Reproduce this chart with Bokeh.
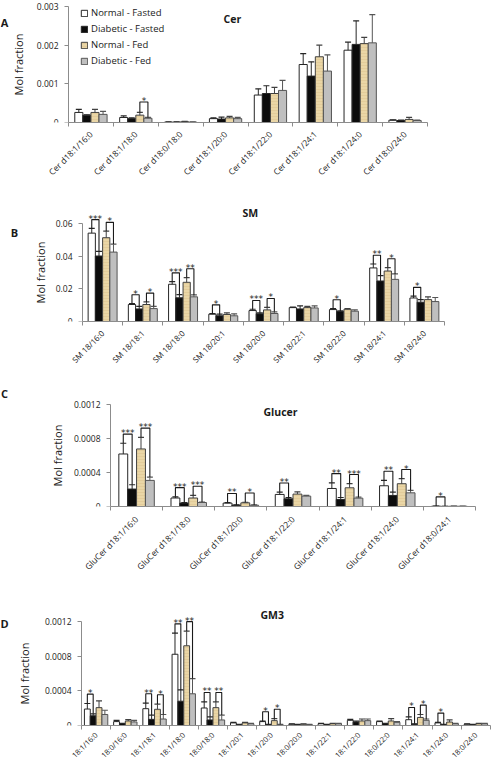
import numpy as np
from bokeh.plotting import figure
from bokeh.layouts import column
from bokeh.models import ColumnDataSource, FixedTicker, Range1d, Label, Legend, LegendItem
from bokeh.embed import file_html
from bokeh.resources import INLINE
from bokeh.core.properties import value

GROUPS = ["Normal - Fasted", "Diabetic - Fasted", "Normal - Fed", "Diabetic - Fed"]

# ---------------- Panel A : Cer ----------------
cer_cats = ["Cer d18:1/16:0", "Cer d18:1/18:0", "Cer d18:0/18:0", "Cer d18:1/20:0",
            "Cer d18:1/22:0", "Cer d18:1/24:1", "Cer d18:1/24:0", "Cer d18:0/24:0"]
cer_nf = [0.00026, 0.00013, 0.00001, 0.00010, 0.00071, 0.00150, 0.00187, 0.00006]
cer_nf_sem = [0.00008, 0.00004, 0.000005, 0.00002, 0.00016, 0.00028, 0.00021, 0.00001]
cer_df = [0.00019, 0.00010, 0.00001, 0.00009, 0.00075, 0.00120, 0.00202, 0.00005]
cer_df_sem = [0.00001, 0.00002, 0.000005, 0.00005, 0.00020, 0.00037, 0.00061, 0.00001]
cer_nfed = [0.00026, 0.00019, 0.00002, 0.00012, 0.00075, 0.00170, 0.00204, 0.00008]
cer_nfed_sem = [0.00008, 0.00007, 0.00001, 0.00004, 0.00016, 0.00030, 0.00016, 0.00005]
cer_dfed = [0.00021, 0.00011, 0.00001, 0.00010, 0.00083, 0.00133, 0.00206, 0.00005]
cer_dfed_sem = [0.00008, 0.00002, 0.000005, 0.00003, 0.00026, 0.00042, 0.00073, 0.00001]
cer_sig = [(1, 1, "*")]
cer_yticks = [0, 0.001, 0.002, 0.003]
cer_ylabels = ["0", "0.001", "0.002", "0.003"]

# ---------------- Panel B : SM ----------------
sm_cats = ["SM 18/16:0", "SM 18/18:1", "SM 18/18:0", "SM 18/20:1", "SM 18/20:0",
           "SM 18/22:1", "SM 18/22:0", "SM 18/24:1", "SM 18/24:0"]
sm_nf = [0.0541, 0.0104, 0.0228, 0.0045, 0.0067, 0.0085, 0.0073, 0.0328, 0.0144]
sm_nf_sem = [0.0029, 0.0006, 0.0016, 0.0003, 0.0008, 0.0003, 0.0006, 0.0024, 0.0011]
sm_df = [0.0401, 0.0077, 0.0145, 0.0035, 0.0047, 0.0077, 0.0061, 0.0248, 0.0118]
sm_df_sem = [0.0028, 0.0015, 0.0020, 0.0010, 0.0006, 0.0019, 0.0004, 0.0033, 0.0016]
sm_nfed = [0.0513, 0.0104, 0.0240, 0.0043, 0.0071, 0.0085, 0.0075, 0.0309, 0.0134]
sm_nfed_sem = [0.0040, 0.0016, 0.0029, 0.0010, 0.0016, 0.0007, 0.0004, 0.0021, 0.0017]
sm_dfed = [0.0425, 0.0079, 0.0151, 0.0035, 0.0049, 0.0083, 0.0063, 0.0258, 0.0122]
sm_dfed_sem = [0.0049, 0.0014, 0.0012, 0.0012, 0.0010, 0.0013, 0.0008, 0.0033, 0.0025]
sm_sig = [(0, 0, "***"), (0, 1, "*"), (1, 0, "*"), (1, 1, "*"), (2, 0, "***"), (2, 1, "**"),
          (3, 0, "*"), (4, 0, "***"), (4, 1, "*"), (6, 0, "*"), (7, 0, "**"), (7, 1, "*"),
          (8, 0, "*")]
sm_yticks = [0, 0.02, 0.04, 0.06]
sm_ylabels = ["0", "0.02", "0.04", "0.06"]

# ---------------- Panel C : Glucer ----------------
glc_cats = ["GluCer d18:1/16:0", "GluCer d18:1/18:0", "GluCer d18:1/20:0", "GluCer d18:1/22:0",
            "GluCer d18:1/24:1", "GluCer d18:1/24:0", "GluCer d18:0/24:1"]
glc_nf = [0.000618, 0.000100, 0.000040, 0.000142, 0.000212, 0.000244, 0.000004]
glc_nf_sem = [0.000126, 0.000014, 0.000005, 0.000027, 0.000067, 0.000063, 0.000001]
glc_df = [0.000205, 0.000040, 0.000016, 0.000090, 0.000083, 0.000130, 0.000002]
glc_df_sem = [0.000051, 0.000005, 0.000003, 0.000016, 0.000023, 0.000039, 0.000001]
glc_nfed = [0.000677, 0.000100, 0.000043, 0.000146, 0.000220, 0.000268, 0.000003]
glc_nfed_sem = [0.000137, 0.000030, 0.000007, 0.000027, 0.000048, 0.000059, 0.000001]
glc_dfed = [0.000307, 0.000047, 0.000015, 0.000122, 0.000098, 0.000161, 0.000003]
glc_dfed_sem = [0.000039, 0.000005, 0.000003, 0.000008, 0.000012, 0.000028, 0.000001]
glc_sig = [(0, 0, "***"), (0, 1, "***"), (1, 0, "***"), (1, 1, "***"), (2, 0, "**"), (2, 1, "*"),
           (3, 0, "**"), (4, 0, "**"), (4, 1, "***"), (5, 0, "**"), (5, 1, "*"), (6, 0, "*")]
glc_yticks = [0, 0.0004, 0.0008, 0.0012]
glc_ylabels = ["0", "0.0004", "0.0008", "0.0012"]

# ---------------- Panel D : GM3 ----------------
gm3_cats = ["18:1/16:0", "18:0/16:0", "18:1/18:1", "18:1/18:0", "18:0/18:0", "18:1/20:1",
            "18:1/20:0", "18:0/20:0", "18:1/22:1", "18:1/22:0", "18:0/22:0", "18:1/24:1",
            "18:1/24:0", "18:0/24:0"]
gm3_nf = [0.000190, 0.000045, 0.000194, 0.000822, 0.000202, 0.000030, 0.000045, 0.000015,
          0.000020, 0.000060, 0.000045, 0.000067, 0.000030, 0.000015]
gm3_nf_sem = [0.000064, 0.000015, 0.000064, 0.000243, 0.000071, 0.000005, 0.000005, 0.000003,
              0.000004, 0.000010, 0.000005, 0.000033, 0.000005, 0.000003]
gm3_df = [0.000112, 0.000022, 0.000071, 0.000280, 0.000064, 0.000010, 0.000010, 0.000010,
          0.000010, 0.000040, 0.000020, 0.000015, 0.000010, 0.000010]
gm3_df_sem = [0.000023, 0.000004, 0.000049, 0.000131, 0.000036, 0.000003, 0.000003, 0.000002,
              0.000002, 0.000010, 0.000004, 0.000004, 0.000002, 0.000002]
gm3_nfed = [0.000206, 0.000052, 0.000187, 0.000920, 0.000206, 0.000030, 0.000056, 0.000015,
            0.000020, 0.000052, 0.000052, 0.000093, 0.000040, 0.000020]
gm3_nfed_sem = [0.000078, 0.000015, 0.000060, 0.000170, 0.000067, 0.000005, 0.000023, 0.000003,
                0.000004, 0.000023, 0.000027, 0.000034, 0.000024, 0.000004]
gm3_dfed = [0.000127, 0.000041, 0.000075, 0.000366, 0.000064, 0.000020, 0.000010, 0.000010,
            0.000020, 0.000056, 0.000037, 0.000060, 0.000020, 0.000020]
gm3_dfed_sem = [0.000049, 0.000019, 0.000052, 0.000176, 0.000056, 0.000004, 0.000003, 0.000002,
                0.000004, 0.000019, 0.000008, 0.000015, 0.000004, 0.000004]
gm3_sig = [(0, 0, "*"), (2, 0, "**"), (2, 1, "*"), (3, 0, "**"), (3, 1, "**"), (4, 0, "**"),
           (4, 1, "**"), (6, 0, "*"), (6, 1, "*"), (11, 0, "*"), (11, 1, "*"), (12, 0, "*")]
gm3_yticks = [0, 0.0004, 0.0008, 0.0012]
gm3_ylabels = ["0", "0.0004", "0.0008", "0.0012"]

# ---------------- styling ----------------
FONT = "Open Sans"
FILL = ["#FFFFFF", "#0C0C0C", "#EAD6A6", "#BFBFBF"]
LINE = ["#262626", "#262626", "#404040", "#555555"]
AXIS = "#8C8C8C"
TXT = "#1A1A1A"
W = 496          # figure width (page x 8 .. 504)
X0 = 8           # left edge of figures in picture pixels


def panel(cats, means, sems, sigs, yticks, ylabels, title, letter, *, fig_top, height,
          ax_top, ax_bottom, fr_left, fr_right, bw, title_pos, letter_pos,
          legend=False, ylab_standoff=8, xlab_size="8px", xlab_standoff=5):
    n = len(cats)
    ymax = yticks[-1]
    ppx = (fr_right - fr_left) / n                 # pixels per category
    ppy = (ax_bottom - ax_top) / ymax              # pixels per y unit
    x_start = -0.5 - (fr_left - X0) / ppx
    x_end = n - 0.5 + (X0 + W - fr_right) / ppx
    y_end = (ax_bottom - fig_top) / ppy

    def to_data(px, py):
        return (x_start + (px - X0) / ppx, (ax_bottom - py) / ppy)

    p = figure(width=W, height=height,
               x_range=Range1d(x_start, x_end), y_range=Range1d(0, y_end),
               min_border_left=0, min_border_right=0, min_border_top=0,
               min_border_bottom=int(round(fig_top + height - ax_bottom)),
               output_backend="svg", toolbar_location=None,
               outline_line_color=None, background_fill_color="white",
               border_fill_color="white")
    p.grid.visible = False

    xs = np.arange(n)
    offs = (np.arange(4) - 1.5) * bw
    rends = []
    for g in range(4):
        m = np.array(means[g], dtype=float)
        s = np.array(sems[g], dtype=float)
        src = ColumnDataSource(dict(x=xs + offs[g], top=m, err=m + s))
        kw = {}
        if g == 2:
            kw = dict(hatch_pattern="horizontal_line", hatch_color="#D8BF88",
                      hatch_scale=3, hatch_weight=0.6, hatch_alpha=0.7)
        r = p.vbar(x="x", top="top", bottom=0, width=bw, source=src,
                   fill_color=FILL[g], line_color=LINE[g], line_width=1, **kw)
        rends.append(r)
        p.segment(x0="x", y0="top", x1="x", y1="err", source=src,
                  line_color=LINE[g], line_width=1)
        p.scatter(x="x", y="err", marker="dash", size=6, source=src,
                  line_color=LINE[g], line_width=1.2)

    # significance brackets
    bx, by, tx, ty, tt = [], [], [], [], []
    for ci, pair, stars in sigs:
        a, b = 2 * pair, 2 * pair + 1
        ya = means[a][ci] + sems[a][ci]
        yb = means[b][ci] + sems[b][ci]
        lvl = max(ya, yb) + 0.09 * ymax
        xa = ci + offs[a]
        xb = ci + offs[b]
        bx.append([xa, xa, xb, xb])
        by.append([ya, lvl, lvl, yb])
        tx.append((xa + xb) / 2)
        ty.append(lvl)
        tt.append(stars)
    if bx:
        p.multi_line(bx, by, line_color="#1A1A1A", line_width=1.1)
        p.text(tx, ty, text=tt, text_align="center", text_baseline="alphabetic",
               text_font=value("DejaVu Sans"), text_font_size="9px",
               text_color="#1A1A1A", y_offset=-1)

    # x axis (category boundaries as tick marks)
    xa_ = p.xaxis[0]
    xa_.bounds = (-0.5, n - 0.5)
    xa_.ticker = FixedTicker(ticks=list(range(n)),
                             minor_ticks=[i - 0.5 for i in range(n + 1)])
    xa_.major_label_overrides = {i: c for i, c in enumerate(cats)}
    xa_.major_label_orientation = np.pi / 4
    xa_.major_tick_line_color = None
    xa_.major_tick_out = 0
    xa_.major_tick_in = 0
    xa_.minor_tick_out = 4
    xa_.minor_tick_in = 0
    xa_.minor_tick_line_color = AXIS
    xa_.axis_line_color = AXIS
    xa_.major_label_text_font = FONT
    xa_.major_label_text_font_size = xlab_size
    xa_.major_label_text_color = TXT
    xa_.major_label_standoff = xlab_standoff

    # y axis, fixed at the left edge of the category range
    ya_ = p.yaxis[0]
    ya_.fixed_location = -0.5
    ya_.ticker = FixedTicker(ticks=yticks)
    ya_.major_label_overrides = {t: l for t, l in zip(yticks, ylabels)}
    ya_.bounds = (0, ymax)
    ya_.axis_line_color = AXIS
    ya_.major_tick_line_color = AXIS
    ya_.major_tick_out = 4
    ya_.major_tick_in = 0
    ya_.minor_tick_line_color = None
    ya_.major_label_text_font = FONT
    ya_.major_label_text_font_size = "8.5px"
    ya_.major_label_text_color = TXT
    ya_.major_label_standoff = 6
    ya_.axis_label = "Mol fraction"
    ya_.axis_label_text_font = FONT
    ya_.axis_label_text_font_size = "11px"
    ya_.axis_label_text_font_style = "normal"
    ya_.axis_label_text_color = TXT
    ya_.axis_label_standoff = ylab_standoff

    # titles and panel letters
    tx_, ty_ = to_data(*title_pos)
    p.add_layout(Label(x=tx_, y=ty_, text=title, text_font=FONT, text_font_size="10.5px",
                       text_font_style="bold", text_color=TXT, text_baseline="middle",
                       text_align="left"))
    lx_, ly_ = to_data(*letter_pos)
    p.add_layout(Label(x=lx_, y=ly_, text=letter, text_font=FONT, text_font_size="11px",
                       text_font_style="bold", text_color=TXT, text_baseline="middle",
                       text_align="center"))

    if legend:
        items = [LegendItem(label=GROUPS[g], renderers=[rends[g]]) for g in range(4)]
        lg = Legend(items=items, location=(80, 55), padding=0, margin=0, spacing=3,
                    label_height=10, glyph_height=8, glyph_width=8, label_standoff=3,
                    label_text_font=FONT, label_text_font_size="9.5px",
                    label_text_color=TXT, border_line_color=None,
                    background_fill_alpha=0)
        p.add_layout(lg, "center")
    return p


pA = panel(cer_cats, [cer_nf, cer_df, cer_nfed, cer_dfed],
           [cer_nf_sem, cer_df_sem, cer_nfed_sem, cer_dfed_sem], cer_sig,
           cer_yticks, cer_ylabels, "Cer", "A",
           fig_top=0, height=188, ax_top=6, ax_bottom=122, fr_left=76, fr_right=435,
           bw=0.18, title_pos=(231, 18), letter_pos=(12, 22), legend=True,
           ylab_standoff=8, xlab_size="8.5px", xlab_standoff=6)
pB = panel(sm_cats, [sm_nf, sm_df, sm_nfed, sm_dfed],
           [sm_nf_sem, sm_df_sem, sm_nfed_sem, sm_dfed_sem], sm_sig,
           sm_yticks, sm_ylabels, "SM", "B",
           fig_top=188, height=188, ax_top=223, ax_bottom=321, fr_left=90, fr_right=452,
           bw=0.18, title_pos=(250, 212), letter_pos=(22, 232), ylab_standoff=5,
           xlab_size="8px", xlab_standoff=6)
pC = panel(glc_cats, [glc_nf, glc_df, glc_nfed, glc_dfed],
           [glc_nf_sem, glc_df_sem, glc_nfed_sem, glc_dfed_sem], glc_sig,
           glc_yticks, glc_ylabels, "Glucer", "C",
           fig_top=376, height=206, ax_top=404, ax_bottom=506, fr_left=118, fr_right=483,
           bw=0.17, title_pos=(271, 411), letter_pos=(12, 393), ylab_standoff=6,
           xlab_size="8.5px", xlab_standoff=7)
pD = panel(gm3_cats, [gm3_nf, gm3_df, gm3_nfed, gm3_dfed],
           [gm3_nf_sem, gm3_df_sem, gm3_nfed_sem, gm3_dfed_sem], gm3_sig,
           gm3_yticks, gm3_ylabels, "GM3", "D",
           fig_top=582, height=186, ax_top=621, ax_bottom=725, fr_left=89, fr_right=498,
           bw=0.2, title_pos=(268, 614), letter_pos=(12, 623), ylab_standoff=10,
           xlab_size="7.5px", xlab_standoff=4)

layout = column(pA, pB, pC, pD, spacing=0)
open("out.html", "w").write(file_html(layout, INLINE))
